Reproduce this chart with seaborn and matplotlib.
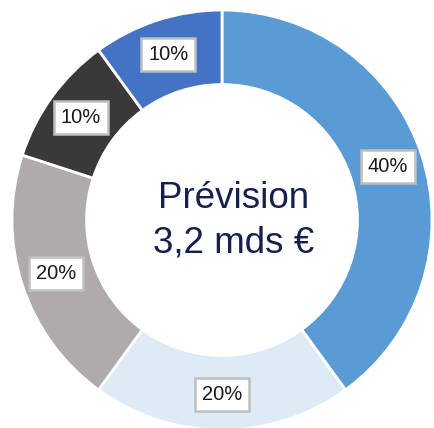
import matplotlib
matplotlib.use("Agg")
import matplotlib.pyplot as plt
import numpy as np
import seaborn as sns

shares = [40, 20, 20, 10, 10]
share_labels = ["40%", "20%", "20%", "10%", "10%"]
slice_colors = ["#5B9BD5", "#DDEBF7", "#AFABAB", "#3A3838", "#4472C4"]
center_title = "Prévision"
center_value = "3,2 mds €"

sns.set_theme(style="white")
plt.rcParams["font.family"] = ["Liberation Sans", "DejaVu Sans"]

fig = plt.figure(figsize=(4.35, 4.28), dpi=100)
ax = fig.add_axes([0, 0, 1, 1])

W, H = 435, 428
cx, cy, R = 222, 220, 210
inner = 0.645
width = 1 - inner

wedges, _ = ax.pie(
    shares,
    colors=slice_colors,
    startangle=90,
    counterclock=False,
    radius=1,
    wedgeprops=dict(width=width, edgecolor="white", linewidth=2),
)

# percentage tags sit in the middle of each ring segment
angle = 90.0
label_r = 0.83
for share, lab in zip(shares, share_labels):
    span = share / sum(shares) * 360
    mid = np.deg2rad(angle - span / 2)
    angle -= span
    ax.text(
        label_r * np.cos(mid), label_r * np.sin(mid), lab,
        ha="center", va="center", fontsize=14.5, color="#1a1a1a",
        bbox=dict(boxstyle="square,pad=0.35", facecolor="white",
                  edgecolor="#BFBFBF", linewidth=1.8),
    )

ax.text(0.055, -0.003, center_title + "\n" + center_value, ha="center", va="center",
        fontsize=26.5, color="#16204A", linespacing=1.33)

ax.set_xlim(-cx / R, (W - cx) / R)
ax.set_ylim(-(H - cy) / R, cy / R)
ax.set_aspect("auto")
ax.axis("off")

fig.savefig("out.png", dpi=100)
